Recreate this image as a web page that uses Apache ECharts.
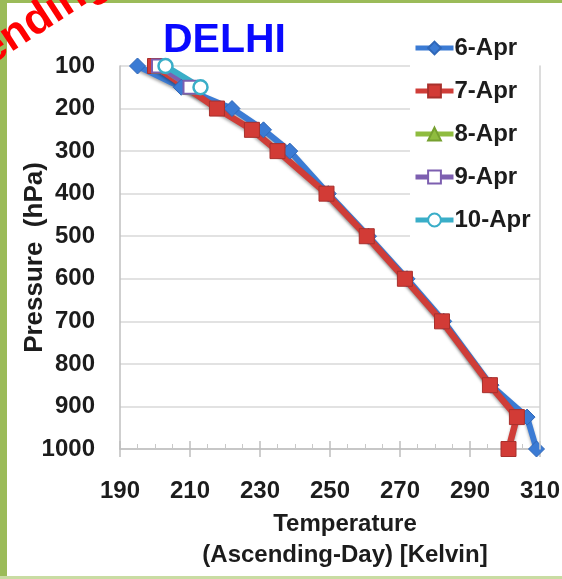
<!DOCTYPE html>
<html>
<head>
<meta charset="utf-8">
<script src="https://cdn.jsdelivr.net/npm/echarts@6/dist/echarts.min.js"></script>
<style>
html,body{margin:0;padding:0;background:#fff;}
#chart{width:562px;height:579px;}
</style>
</head>
<body>
<div id="chart"></div>
<script>
// ---- data ----
const seriesNames = ['6-Apr', '7-Apr', '8-Apr', '9-Apr', '10-Apr'];
const pressure6 = [100, 150, 200, 250, 300, 400, 500, 600, 700, 850, 925, 1000];
const temp6     = [195, 207.5, 222, 231, 238.5, 249.5, 261, 272, 282.5, 296, 306.3, 309];
const pressure7 = [100, 200, 250, 300, 400, 500, 600, 700, 850, 925, 1000];
const temp7     = [200, 217.7, 227.7, 235, 249, 260.5, 271.4, 282, 295.7, 303.4, 301];
const pressure8 = [100, 150];
const temp8     = [201, 210];
const pressure9 = [100, 150];
const temp9     = [201, 210];
const pressure10 = [100, 150];
const temp10     = [203, 213];
const xTicks = [190, 210, 230, 250, 270, 290, 310];
const yTicks = [100, 200, 300, 400, 500, 600, 700, 800, 900, 1000];

const pairs = (t, p) => p.map((v, i) => [t[i], v]);

const FONT = '"Liberation Sans", Arial, sans-serif';
const TXT = '#1c1c1c';
const chart = echarts.init(document.getElementById('chart'), null, {renderer: 'canvas'});

const lineShadow = {shadowColor: 'rgba(0,0,0,0.35)', shadowBlur: 3, shadowOffsetY: 2};
const xMin = xTicks[0], xMax = xTicks[xTicks.length - 1];
const yMin = yTicks[0], yMax = yTicks[yTicks.length - 1];

const option = {
  backgroundColor: '#fff',
  animation: false,
  textStyle: {fontFamily: FONT},
  title: {
    text: 'DELHI',
    left: 158, top: 14,
    textStyle: {color: '#0a0aff', fontSize: 41, fontWeight: 'bold', fontFamily: FONT, lineHeight: 44}
  },
  legend: {
    orient: 'vertical',
    left: 410, top: 31,
    padding: [5, 12, 8, 3],
    backgroundColor: '#fff',
    itemWidth: 38, itemHeight: 16, itemGap: 19,
    lineStyle: {width: 5},
    textStyle: {fontSize: 24, fontWeight: 'bold', color: TXT, fontFamily: FONT, lineHeight: 24, padding: [0, 0, 0, -4]},
    data: seriesNames
  },
  grid: {left: 120, right: 22, top: 66, bottom: 130, containLabel: false, outerBoundsMode: 'none'},
  xAxis: [{
    type: 'value', min: xMin, max: xMax, interval: 20,
    axisLine: {onZero: false, lineStyle: {color: '#bfbfbf', width: 1.5}},
    axisTick: {show: true, inside: false, length: 8, lineStyle: {color: '#bfbfbf', width: 1.5}},
    minorTick: {show: true, splitNumber: 4, length: -5, lineStyle: {color: '#c8c8c8'}},
    splitLine: {show: false},
    axisLabel: {margin: 30, fontSize: 24, fontWeight: 'bold', color: TXT, fontFamily: FONT},
    name: 'Temperature\n(Ascending-Day) [Kelvin]',
    nameLocation: 'middle', nameGap: 60, nameMoveOverlap: false,
    nameTextStyle: {fontSize: 24, fontWeight: 'bold', color: TXT, fontFamily: FONT, lineHeight: 31, padding: [0, 0, 0, 30]}
  }, {
    type: 'value', min: xMin, max: xMax, interval: 20, position: 'bottom',
    axisLine: {show: false, onZero: false},
    axisTick: {show: true, inside: true, length: 8, lineStyle: {color: '#bfbfbf', width: 1.5}},
    axisLabel: {show: false}, splitLine: {show: false}
  }],
  yAxis: [{
    type: 'value', inverse: true, min: yMin, max: yMax, interval: 100,
    axisLine: {show: true, lineStyle: {color: '#bfbfbf', width: 1.5}},
    axisTick: {show: false},
    splitLine: {show: true, lineStyle: {color: '#d9d9d9', width: 1.5}},
    axisLabel: {margin: 25, fontSize: 24, fontWeight: 'bold', color: TXT, fontFamily: FONT, formatter: v => String(v)},
    name: 'Pressure  (hPa)',
    nameLocation: 'middle', nameGap: 72, nameMoveOverlap: false,
    nameTextStyle: {fontSize: 26, fontWeight: 'bold', color: TXT, fontFamily: FONT}
  }, {
    type: 'value', inverse: true, min: yMin, max: yMax, interval: 100,
    position: 'right', z: 10,
    axisLine: {show: true, lineStyle: {color: '#d0d0d0', width: 1.5}},
    axisTick: {show: false}, axisLabel: {show: false}, splitLine: {show: false}
  }],
  series: [
    {
      name: '6-Apr', type: 'line', data: pairs(temp6, pressure6),
      symbol: 'diamond', symbolSize: 16,
      lineStyle: Object.assign({color: '#3b7bd4', width: 6}, lineShadow),
      itemStyle: {color: '#3b7bd4', borderColor: '#2f67b8', borderWidth: 1}
    },
    {
      name: '7-Apr', type: 'line', data: pairs(temp7, pressure7),
      symbol: 'rect', symbolSize: 15,
      lineStyle: Object.assign({color: '#cf3d38', width: 6.5}, lineShadow),
      itemStyle: {color: '#d23b36', borderColor: '#a8302c', borderWidth: 1}
    },
    {
      name: '8-Apr', type: 'line', data: pairs(temp8, pressure8),
      symbol: 'triangle', symbolSize: 14,
      lineStyle: {color: '#8fbc3f', width: 5},
      itemStyle: {color: '#8fbc3f', borderColor: '#76a030', borderWidth: 1}
    },
    {
      name: '9-Apr', type: 'line', data: pairs(temp9, pressure9),
      symbol: 'rect', symbolSize: 13,
      lineStyle: {color: '#7d5fb0', width: 5},
      itemStyle: {color: '#ffffff', borderColor: '#7d5fb0', borderWidth: 2}
    },
    {
      name: '10-Apr', type: 'line', data: pairs(temp10, pressure10),
      symbol: 'circle', symbolSize: 14,
      lineStyle: {color: '#3aaec8', width: 6},
      itemStyle: {color: '#ffffff', borderColor: '#3aaec8', borderWidth: 2.5}
    }
  ],
  graphic: [
    {type: 'rect', left: 0, top: 0, z: 100, shape: {width: 7, height: 579}, style: {fill: '#9bbb59'}},
    {type: 'rect', left: 0, top: 0, z: 100, shape: {width: 562, height: 3}, style: {fill: '#9bbb59'}},
    {type: 'rect', left: 0, bottom: 0, z: 100, shape: {width: 562, height: 3}, style: {fill: '#c9dca3'}},
    {
      type: 'text', x: -72, y: 118, rotation: 0.576, z: 101,
      style: {text: 'Ascending', font: 'bold 44px ' + FONT, fill: '#ff0000', textVerticalAlign: 'bottom'}
    }
  ]
};
chart.setOption(option);
</script>
</body>
</html>
